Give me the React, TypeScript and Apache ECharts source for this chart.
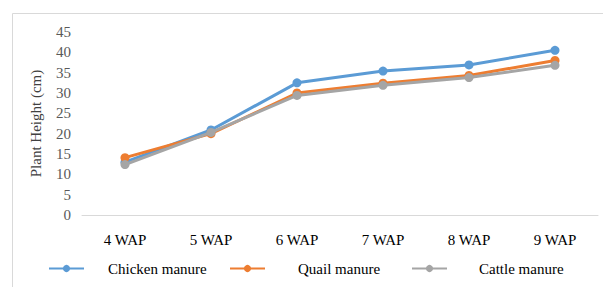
import React, { useEffect, useRef } from "react";
import * as echarts from "echarts";

const categories = ["4 WAP", "5 WAP", "6 WAP", "7 WAP", "8 WAP", "9 WAP"];
const chicken = [13, 20.9, 32.5, 35.4, 36.9, 40.5];
const quail = [14.1, 20.0, 30.0, 32.4, 34.3, 38.0];
const cattle = [12.4, 20.3, 29.4, 31.9, 33.8, 36.8];
const seriesNames = ["Chicken manure", "Quail manure", "Cattle manure"];
const colors = ["#5B9BD5", "#ED7D31", "#A5A5A5"];

const FONT = "Liberation Serif";

export default function App() {
  const ref = useRef<HTMLDivElement>(null);
  useEffect(() => {
    const chart = echarts.init(ref.current!, null, { renderer: "svg" });
    const data = [chicken, quail, cattle];
    const legendPos = [
      { left: 48, textLeft: 107 },
      { left: 229, textLeft: 297 },
      { left: 411, textLeft: 478 },
    ];
    chart.setOption({
      animation: false,
      backgroundColor: "#ffffff",
      textStyle: { fontFamily: FONT },
      graphic: [
        {
          type: "rect",
          shape: { x: 12.5, y: 13.5, width: 620, height: 300 },
          style: { fill: "none", stroke: "#d9d9d9", lineWidth: 1 },
          silent: true,
          z: -1,
        },
      ],
      legend: seriesNames.map((name, i) => ({
        data: [name],
        left: legendPos[i].left,
        top: 261,
        itemWidth: 35,
        itemHeight: 9,
        padding: 0,
        textStyle: {
          fontFamily: FONT,
          fontSize: 15,
          color: "#000",
          padding: [0, 0, 0, legendPos[i].textLeft - legendPos[i].left - 35 - 5],
        },
      })),
      grid: { left: 82, right: 5, top: 32, bottom: 72 },
      xAxis: {
        type: "category",
        data: categories,
        boundaryGap: true,
        axisLine: { show: true, lineStyle: { color: "#d9d9d9", width: 1 } },
        axisTick: { show: false },
        axisLabel: {
          margin: 17,
          fontFamily: FONT,
          fontSize: 15,
          color: "#000",
        },
      },
      yAxis: {
        type: "value",
        min: 0,
        max: 45,
        interval: 5,
        name: "Plant Height (cm)",
        nameLocation: "middle",
        nameGap: 39,
        nameTextStyle: { fontFamily: FONT, fontSize: 15, color: "#404040" },
        axisLine: { show: false },
        axisTick: { show: false },
        splitLine: { show: false },
        axisLabel: {
          margin: 11,
          fontFamily: FONT,
          fontSize: 15,
          color: "#595959",
        },
      },
      series: seriesNames.map((name, i) => ({
        name,
        type: "line",
        data: data[i],
        color: colors[i],
        symbol: "circle",
        symbolSize: 9,
        lineStyle: { width: 3, color: colors[i] },
        itemStyle: { color: colors[i] },
        z: 2 + i,
      })),
    });
    return () => chart.dispose();
  }, []);
  return <div ref={ref} style={{ width: 603, height: 287, position: "absolute", left: 0, top: 0 }} />;
}
